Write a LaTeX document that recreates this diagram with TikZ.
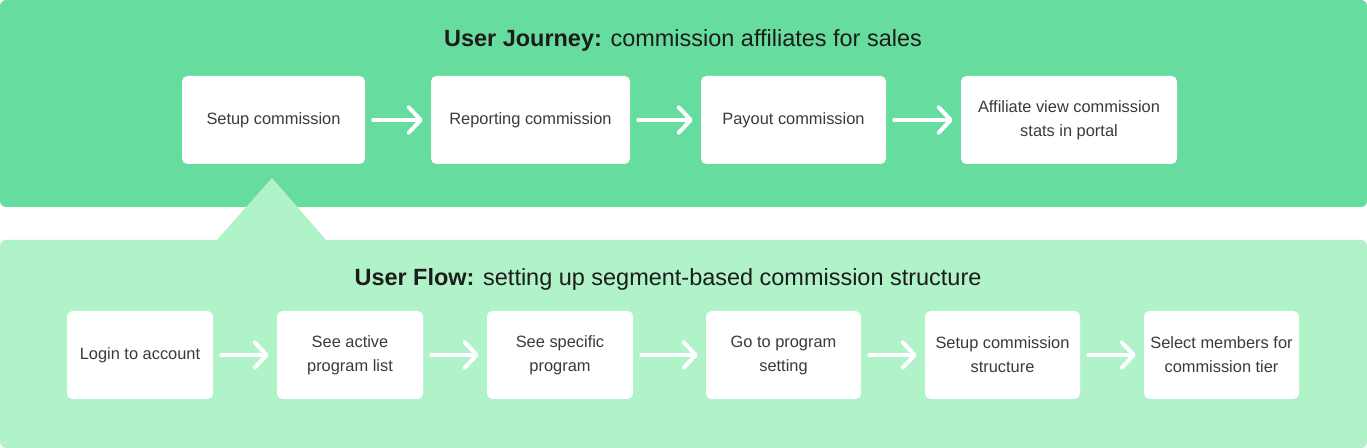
\documentclass[tikz,border=0pt]{standalone}
\usepackage{fontspec}
\setmainfont{Liberation Sans}
\usepackage{xcolor}
\usepackage{tikz}
\usetikzlibrary{arrows.meta, positioning, calc}
\definecolor{journeygreen}{RGB}{102, 221, 159}
\definecolor{flowgreen}{RGB}{176, 243, 200}
\definecolor{titleink}{RGB}{28, 28, 28}
\definecolor{boxink}{RGB}{58, 58, 58}

\tikzset{
    panel/.style={rounded corners=4.5pt},
    stepbox/.style={fill=white, rounded corners=4pt, minimum height=66pt,
          minimum width=#1*0.75pt, inner sep=2pt, align=center, text=boxink,
          font=\fontsize{12.3}{18}\selectfont},
    flowarrow/.style={white, line width=3pt, line cap=round, line join=round,
          shorten <=6pt, shorten >=6pt,
          -{Straight Barb[length=9pt, width=19pt, line cap=round, round]}},
    flowtitle/.style={text=titleink, font=\fontsize{17.6}{20}\selectfont}
}

\begin{document}
\begin{tikzpicture}[x=0.75pt, y=-0.75pt]
    \useasboundingbox (0,0) rectangle (1367,448);
    % panels
    \fill[journeygreen, panel] (0,0) rectangle (1367,207);
    \fill[flowgreen, panel] (0,240) rectangle (1367,448);
    \fill[flowgreen] (272,178) -- (327,241) -- (216,241) -- cycle;

    % user journey
    \node[flowtitle] (journeytitle) at (683,40) {\textbf{User Journey:} commission affiliates for sales};
    \node[stepbox=183] (setup) at (273.5,120) {Setup commission};
    \node[stepbox=199] (report) at (530.5,120) {Reporting commission};
    \node[stepbox=185] (payout) at (793.5,120) {Payout commission};
    \node[stepbox=216] (portal) at (1069,120) {Affiliate view commission\\stats in portal};
    \draw[flowarrow] (setup) -- (report);
    \draw[flowarrow] (report) -- (payout);
    \draw[flowarrow] (payout) -- (portal);

    % user flow
    \node[flowtitle] (flowtitle) at (668,279) {\textbf{User Flow:} setting up segment-based commission structure};
    \node[stepbox=146] (login) at (140,355) {Login to account};
    \node[stepbox=146] (programs) at (350,355) {See active\\program list};
    \node[stepbox=146] (program) at (560,355) {See specific\\program};
    \node[stepbox=155] (settings) at (783.5,355) {Go to program\\setting};
    \node[stepbox=155] (structure) at (1002.5,355) {Setup commission\\structure};
    \node[stepbox=155] (members) at (1221.5,355) {Select members for\\commission tier};
    \draw[flowarrow] (login) -- (programs);
    \draw[flowarrow] (programs) -- (program);
    \draw[flowarrow] (program) -- (settings);
    \draw[flowarrow] (settings) -- (structure);
    \draw[flowarrow] (structure) -- (members);
\end{tikzpicture}
\end{document}
